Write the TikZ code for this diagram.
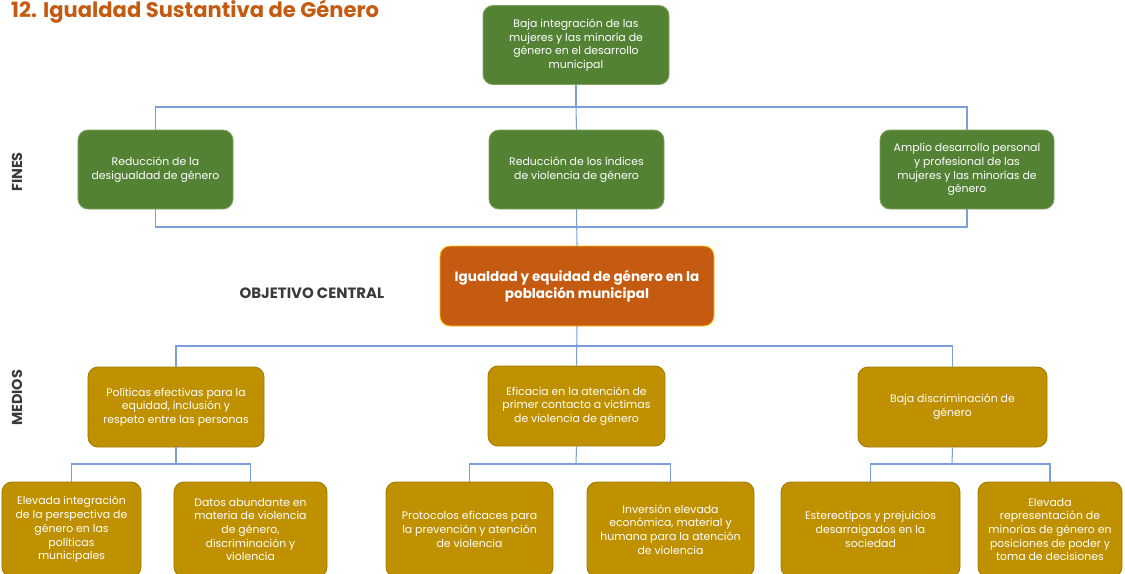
\documentclass[tikz,border=0pt]{standalone}
\usepackage{fontspec}
\setmainfont{Poppins}
\usepackage{xcolor}
\definecolor{finfill}{HTML}{548235}
\definecolor{finedge}{HTML}{7FA35F}
\definecolor{medfill}{HTML}{BF9000}
\definecolor{mededge}{HTML}{A07A00}
\definecolor{objfill}{HTML}{C55A11}
\definecolor{objedge}{HTML}{FFC000}
\definecolor{linkblue}{HTML}{7C9FDB}
\definecolor{labelgray}{HTML}{3A3A3A}

\begin{document}
\begin{tikzpicture}[
  x=0.2mm, y=-0.2mm,
  font=\fontsize{6.2}{7.8}\selectfont,
  box/.style={rounded corners=2mm, text=white, align=center, inner sep=2pt, line width=0.5pt},
  fin/.style={box, fill=finfill, draw=finedge, minimum height=15.8mm},
  med/.style={box, fill=medfill, draw=mededge, minimum height=16mm},
  leaf/.style={box, fill=medfill, draw=mededge, minimum height=19mm},
  side/.style={font=\fontsize{8.2}{9}\selectfont\bfseries, text=labelgray, rotate=90},
  link/.style={draw=linkblue, line width=0.6pt}
]
\useasboundingbox (0,0) rectangle (1125,573);

\node[anchor=west, text=objfill, font=\fontsize{12}{14}\selectfont\bfseries] (title) at (5,12)
  {12. Igualdad Sustantiva de Género};

\node[fin, minimum width=37.2mm] (top) at (576,45)
  {Baja integración de las\\ mujeres y las minoría de\\ género en el desarrollo\\ municipal};

\node[fin, minimum width=31mm] (f1) at (155.5,169.5)
  {Reducción de la\\ desigualdad de género};
\node[fin, minimum width=35mm] (f2) at (576.5,169.5)
  {Reducción de los índices\\ de violencia de género};
\node[fin, minimum width=34.8mm] (f3) at (967,169.5)
  {Amplio desarrollo personal\\ y profesional de las\\ mujeres y las minorías de\\ género};

\node[side] (fines) at (17,172) {FINES};
\node[side] (medios) at (17,398) {MEDIOS};
\node[font=\fontsize{8.5}{10}\selectfont\bfseries, text=labelgray] (objlabel) at (312,293) {OBJETIVO CENTRAL};

\node[box, fill=objfill, draw=objedge, minimum width=54.8mm, minimum height=16mm,
      font=\fontsize{7.7}{9.6}\selectfont\bfseries] (central) at (577,286)
  {Igualdad y equidad de género en la\\ población municipal};

\node[med, minimum width=35.2mm] (m1) at (176,407)
  {Políticas efectivas para la\\ equidad, inclusión y\\ respeto entre las personas};
\node[med, minimum width=35.4mm] (m2) at (576.5,406)
  {Eficacia en la atención de\\ primer contacto a victimas\\ de violencia de género};
\node[med, minimum width=37.8mm] (m3) at (952.5,407)
  {Baja discriminación de\\ género};

\node[leaf, minimum width=27.8mm] (c1) at (71.5,529.5)
  {Elevada integración\\ de la perspectiva de\\ género en las\\ políticas\\ municipales};
\node[leaf, minimum width=30.6mm] (c2) at (250.5,529.5)
  {Datos abundante en\\ materia de violencia\\ de género,\\ discriminación y\\ violencia};
\node[leaf, minimum width=33.4mm] (c3) at (469.5,529.5)
  {Protocolos eficaces para\\ la prevención y atención\\ de violencia};
\node[leaf, minimum width=33.4mm] (c4) at (670.5,529.5)
  {Inversión elevada\\ económica, material y\\ humana para la atención\\ de violencia};
\node[leaf, minimum width=35.8mm] (c5) at (870.5,529.5)
  {Estereotipos y prejuicios\\ desarraigados en la\\ sociedad};
\node[leaf, minimum width=28.8mm] (c6) at (1050,529.5)
  {Elevada\\ representación de\\ minorías de género en\\ posiciones de poder y\\ toma de decisiones};

\coordinate (busA) at (576,107);
\coordinate (busB) at (576,227);
\coordinate (busC) at (576,346);
\coordinate (busD) at (176,464);
\coordinate (busE) at (576,464);
\coordinate (busF) at (952,464);

\draw[link] (top.south) -- (busA);
\draw[link] (f1.north) |- (busA) -| (f3.north);
\draw[link] (busA) -- (f2.north);
\draw[link] (f1.south) |- (busB) -| (f3.south);
\draw[link] (f2.south) -- (central.north);
\draw[link] (central.south) -- (m2.north);
\draw[link] (m1.north) |- (busC) -| (m3.north);
\draw[link] (m1.south) -- (busD);
\draw[link] (c1.north) |- (busD) -| (c2.north);
\draw[link] (m2.south) -- (busE);
\draw[link] (c3.north) |- (busE) -| (c4.north);
\draw[link] (m3.south) -- (busF);
\draw[link] (c5.north) |- (busF) -| (c6.north);
\end{tikzpicture}
\end{document}
